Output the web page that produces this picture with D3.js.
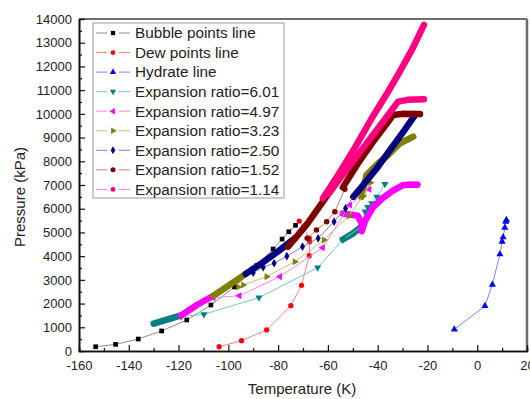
<!DOCTYPE html>
<html><head><meta charset="utf-8">
<script src="https://cdn.jsdelivr.net/npm/d3@7"></script>
<style>
body{margin:0;background:#fff;}
svg{display:block;font-family:"Liberation Sans",Arial,sans-serif;}
</style></head><body>
<svg id="chart" width="530" height="399"></svg>
<script>
// Axis ticks
const xTicks = [-160,-140,-120,-100,-80,-60,-40,-20,0,20];
const yTicks = [0,1000,2000,3000,4000,5000,6000,7000,8000,9000,10000,11000,12000,13000,14000];

// Phase envelope and hydrate curve (temperature, pressure kPa)
const bubbleT = [-153.3,-145.3,-136.2,-126.8,-116.7,-107.0,-97.5,-88.6,-82.0,-78.4,-75.7,-73.0];
const bubbleP = [180,280,505,845,1310,1940,2700,3600,4300,4720,5030,5300];
const dewT = [-103.7,-94.7,-84.6,-74.9,-70.6,-67.5,-67.3,-67.5,-71.5];
const dewP = [180,435,890,1910,2770,4020,4610,4760,5480];
const hydrateT = [-9.2,3.1,6.1,9.1,10.0,10.4,11.1,11.5,11.7];
const hydrateP = [910,1900,2800,4080,4610,4800,5200,5450,5530];

// Expansion ratio 6.01
const r601ThinT = [-119,-109.8,-87.7,-64.1,-54,-46.5,-45.1,-44,-42.4,-40.3,-37.1];
const r601ThinP = [1450,1548,2249,3514,4700,5240,5880,6070,6230,6500,7040];
const r601DenseAT = [-130,-125,-119];
const r601DenseAP = [1150,1310,1500];
const r601DenseBT = [-54,-50,-46.5];
const r601DenseBP = [4700,4950,5240];

// Expansion ratio 4.97
const r497ThinT = [-106,-95.6,-79.3,-62.1,-51.2,-43.4];
const r497ThinP = [2250,2330,3134,4357,6157,6820];
const r497DenseAT = [-119,-112.5,-106];
const r497DenseAP = [1500,1950,2330];
const r497DenseBT = [-54,-48,-46.5,-46.4,-45,-42,-38,-34,-30,-27,-24];
const r497DenseBP = [5800,5700,5400,5050,5500,6050,6450,6750,6990,7020,7010];

// Expansion ratio 3.23
const r323ThinT = [-96,-94,-84.6,-73.3,-61.6,-51.6,-45.8,-42.9];
const r323ThinP = [2700,2784,3134,3766,4681,5694,6537,7098];
const r323DenseAT = [-106,-100,-93];
const r323DenseAP = [2330,2750,3250];
const r323DenseBT = [-46.5,-44.5,-40,-36.5,-31,-25.7];
const r323DenseBP = [6500,7420,7900,8200,8760,9040];

// Expansion ratio 2.50
const r250ThinT = [-90,-86,-81.6,-76.5,-70.2,-63.9,-57.5,-52.9,-49.6];
const r250ThinP = [3300,3530,3700,4000,4400,4753,5453,6018,6537];
const r250DenseAT = [-93,-86,-80,-73.3];
const r250DenseAP = [3250,3750,4200,4750];
const r250DenseBT = [-49.8,-45.8,-40,-35,-30,-25];
const r250DenseBP = [6500,7000,7750,8480,9200,9950];

// Expansion ratio 1.52
const r152ThinT = [-68.3,-64.6,-60.5,-57.2,-53.2];
const r152ThinP = [4753,5103,5453,5875,6820];
const r152DenseAT = [-76,-72,-68,-62,-56];
const r152DenseAP = [4400,4900,5400,6300,7200];
const r152DenseBT = [-54,-48,-42,-37,-33.8,-30,-23];
const r152DenseBP = [6900,7900,8800,9500,9950,10000,9990];

// Expansion ratio 1.14
const r114ThinT = [];
const r114ThinP = [];
const r114DenseAT = [-62,-56,-50,-42,-36,-31.1,-26,-21.4];
const r114DenseAP = [6440,7400,8420,9880,10900,11780,12750,13750];
const r114DenseBT = [-60,-55,-48.5,-40,-35,-31.8,-28,-21.4];
const r114DenseBP = [6600,7300,8195,9377,10070,10516,10590,10615];

const zip = (a, b) => a.map((v, i) => [v, b[i]]);

const series = [
  {name:"Bubble points line", color:"#000000", line:"#8c8c8c", shape:"square",
   thin:zip(bubbleT,bubbleP), dense:[]},
  {name:"Dew points line", color:"#ff0000", line:"#ff8080", shape:"circle",
   thin:zip(dewT,dewP), dense:[]},
  {name:"Hydrate line", color:"#0000ff", line:"#8080ff", shape:"up",
   thin:zip(hydrateT,hydrateP), dense:[]},
  {name:"Expansion ratio=6.01", color:"#008080", line:"#80c0c0", shape:"down",
   thin:zip(r601ThinT,r601ThinP), dense:[zip(r601DenseAT,r601DenseAP),zip(r601DenseBT,r601DenseBP)]},
  {name:"Expansion ratio=4.97", color:"#ff00ff", line:"#ff80ff", shape:"left",
   thin:zip(r497ThinT,r497ThinP), dense:[zip(r497DenseAT,r497DenseAP),zip(r497DenseBT,r497DenseBP)]},
  {name:"Expansion ratio=3.23", color:"#808000", line:"#c0c080", shape:"right",
   thin:zip(r323ThinT,r323ThinP), dense:[zip(r323DenseAT,r323DenseAP),zip(r323DenseBT,r323DenseBP)]},
  {name:"Expansion ratio=2.50", color:"#000080", line:"#8080c0", shape:"diamond",
   thin:zip(r250ThinT,r250ThinP), dense:[zip(r250DenseAT,r250DenseAP),zip(r250DenseBT,r250DenseBP)]},
  {name:"Expansion ratio=1.52", color:"#800000", line:"#c08080", shape:"hex",
   thin:zip(r152ThinT,r152ThinP), dense:[zip(r152DenseAT,r152DenseAP),zip(r152DenseBT,r152DenseBP)]},
  {name:"Expansion ratio=1.14", color:"#ff0080", line:"#ff80c0", shape:"circle",
   thin:zip(r114ThinT,r114ThinP), dense:[zip(r114DenseAT,r114DenseAP),zip(r114DenseBT,r114DenseBP)]}
];

const svg = d3.select("#chart");
const x = d3.scaleLinear().domain([-160, 20]).range([79, 527]);
const y = d3.scaleLinear().domain([0, 14000]).range([351, 19]);

function symbolPath(shape, size) {
  const tri = d3.symbol().type(d3.symbolTriangle).size(size)();
  switch (shape) {
    case "square": return {d: d3.symbol().type(d3.symbolSquare).size(size)(), rot: 0};
    case "circle": return {d: d3.symbol().type(d3.symbolCircle).size(size)(), rot: 0};
    case "hex": return {d: d3.symbol().type(d3.symbolCircle).size(size * 1.1)(), rot: 0};
    case "diamond": return {d: d3.symbol().type(d3.symbolDiamond).size(size)(), rot: 0};
    case "up": return {d: tri, rot: 0};
    case "down": return {d: tri, rot: 180};
    case "left": return {d: tri, rot: -90};
    case "right": return {d: tri, rot: 90};
  }
}

// Plot frame: grey top/right edges
svg.append("line").attr("x1", 79).attr("x2", 527).attr("y1", 19).attr("y2", 19)
  .attr("stroke", "#6e6e6e").attr("stroke-width", 2);
svg.append("line").attr("x1", 527).attr("x2", 527).attr("y1", 19).attr("y2", 351)
  .attr("stroke", "#6e6e6e").attr("stroke-width", 2.5);

const plot = svg.append("g");
const line = d3.line().x(d => x(d[0])).y(d => y(d[1]));

series.forEach(s => {
  const g = plot.append("g");
  s.dense.forEach(seg => {
    g.append("path").attr("d", line(seg)).attr("fill", "none")
      .attr("stroke", s.color).attr("stroke-width", 6.5)
      .attr("stroke-linecap", "round").attr("stroke-linejoin", "round");
  });
  if (s.thin.length) {
    g.append("path").attr("d", line(s.thin)).attr("fill", "none")
      .attr("stroke", s.line).attr("stroke-width", 1);
    const sym = symbolPath(s.shape, 22);
    g.selectAll("path.m").data(s.thin).join("path").attr("class", "m")
      .attr("d", sym.d).attr("fill", s.color)
      .attr("transform", d => `translate(${x(d[0])},${y(d[1])}) rotate(${sym.rot})`);
  }
});

// Axes with inward ticks
const plain = d => String(d);
const xAxis = d3.axisBottom(x).tickValues(xTicks).tickFormat(plain).tickSizeInner(-6).tickSizeOuter(0).tickPadding(10);
const xMinor = d3.axisBottom(x).tickValues(d3.range(-150, 20, 20)).tickSize(-3).tickFormat("");
const yAxis = d3.axisLeft(y).tickValues(yTicks).tickFormat(plain).tickSizeInner(-6).tickSizeOuter(0).tickPadding(7);
const yMinor = d3.axisLeft(y).tickValues(d3.range(500, 14000, 1000)).tickSize(-3).tickFormat("");

function styleAxis(g) {
  g.select(".domain").attr("stroke", "#111").attr("stroke-width", 1.6);
  g.selectAll(".tick line").attr("stroke", "#111").attr("stroke-width", 1.2);
  g.selectAll(".tick text").attr("font-size", 13).attr("fill", "#222")
    .attr("font-family", "Liberation Sans, Arial, sans-serif");
}
svg.append("g").attr("transform", "translate(0,351)").call(xMinor).call(styleAxis);
svg.append("g").attr("transform", "translate(0,351)").call(xAxis).call(styleAxis);
svg.append("g").attr("transform", "translate(79,0)").call(yMinor).call(styleAxis);
svg.append("g").attr("transform", "translate(79,0)").call(yAxis).call(styleAxis);

svg.append("text").attr("x", 302).attr("y", 394).attr("text-anchor", "middle")
  .attr("font-size", 15).attr("fill", "#222").text("Temperature (K)");
svg.append("text").attr("transform", "translate(25,197) rotate(-90)").attr("text-anchor", "middle")
  .attr("font-size", 15).attr("fill", "#222").text("Pressure (kPa)");

// Legend
const lg = svg.append("g");
lg.append("rect").attr("x", 93).attr("y", 23).attr("width", 191).attr("height", 175)
  .attr("fill", "#fff").attr("stroke", "#9a9a9a").attr("stroke-width", 1);
series.forEach((s, i) => {
  const cy = 33 + i * 19.55;
  lg.append("line").attr("x1", 96).attr("x2", 107).attr("y1", cy).attr("y2", cy)
    .attr("stroke", s.line).attr("stroke-width", 1);
  lg.append("line").attr("x1", 119).attr("x2", 130).attr("y1", cy).attr("y2", cy)
    .attr("stroke", s.line).attr("stroke-width", 1);
  const sym = symbolPath(s.shape, 18);
  lg.append("path").attr("d", sym.d).attr("fill", s.color)
    .attr("transform", `translate(113,${cy}) rotate(${sym.rot})`);
  lg.append("text").attr("x", 135).attr("y", cy + 5.3).attr("font-size", 15.3)
    .attr("fill", "#222").text(s.name);
});
</script>
</body></html>
